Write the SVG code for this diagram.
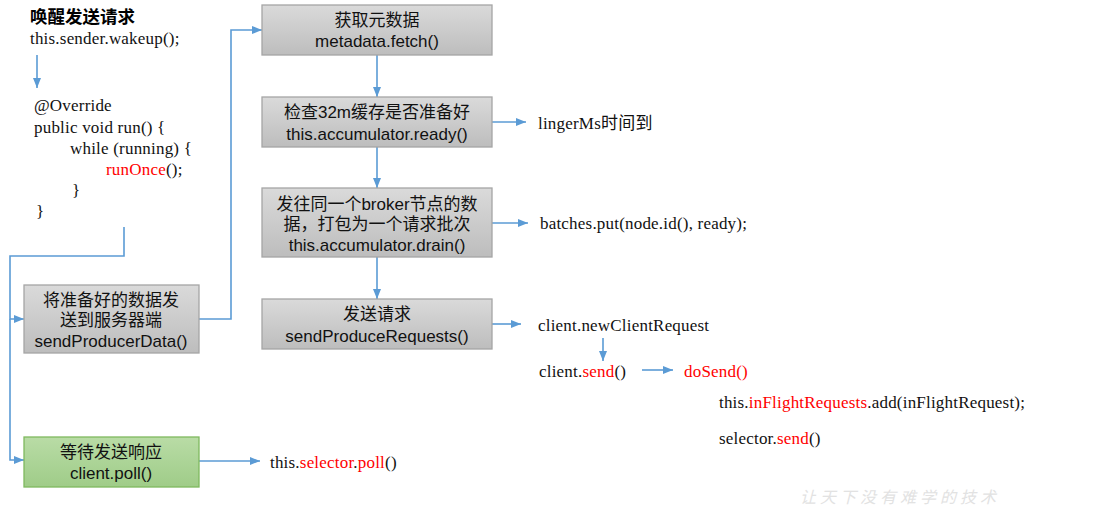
<svg xmlns="http://www.w3.org/2000/svg" width="1093" height="508" viewBox="0 0 1093 508">
<defs>
<linearGradient id="gray" x1="0" y1="0" x2="0" y2="1"><stop offset="0" stop-color="#dadada"/><stop offset="1" stop-color="#bdbdbd"/></linearGradient>
<linearGradient id="green" x1="0" y1="0" x2="0" y2="1"><stop offset="0" stop-color="#b9dca6"/><stop offset="1" stop-color="#9fcc88"/></linearGradient>
<marker id="ah" viewBox="0 0 10 10" refX="10" refY="5" markerWidth="10" markerHeight="10" markerUnits="userSpaceOnUse" orient="auto"><path d="M0,1 L10,5 L0,9 z" fill="#5b9bd5"/></marker>
<style>
.box{fill:url(#gray);stroke:#a5a5a5;stroke-width:1.3}
.gbox{fill:url(#green);stroke:#7fb95f;stroke-width:1.3}
.bt{font-family:"Liberation Sans","Noto Sans CJK SC",sans-serif;font-size:17px;fill:#111;text-anchor:middle}
.st{font-family:"Liberation Serif","Noto Sans CJK SC",serif;font-size:17px;letter-spacing:0.2px;fill:#111}
.red{fill:#ff0000}
.c{fill:none;stroke:#5b9bd5;stroke-width:1.6}
</style>
</defs>
<rect width="1093" height="508" fill="#ffffff"/>
<g id="connectors">
<path class="c" d="M37,55 V88" marker-end="url(#ah)"/>
<path class="c" d="M124,227 V256 H10 V319 H24" marker-end="url(#ah)"/>
<path class="c" d="M10,319 V460 H24" marker-end="url(#ah)"/>
<path class="c" d="M199,319 H231 V30 H262" marker-end="url(#ah)"/>
<path class="c" d="M377,55 V97" marker-end="url(#ah)"/>
<path class="c" d="M377,147 V188" marker-end="url(#ah)"/>
<path class="c" d="M377,257 V299" marker-end="url(#ah)"/>
<path class="c" d="M492,122 H526" marker-end="url(#ah)"/>
<path class="c" d="M492,223 H528" marker-end="url(#ah)"/>
<path class="c" d="M492,324 H521" marker-end="url(#ah)"/>
<path class="c" d="M603,338 V361" marker-end="url(#ah)"/>
<path class="c" d="M642,370 H673" marker-end="url(#ah)"/>
<path class="c" d="M199,461 H260" marker-end="url(#ah)"/>
</g>
<g id="intro">
<text x="30" y="23" style="font-family:'Liberation Sans','Noto Sans CJK SC',sans-serif;font-size:17.5px;font-weight:bold" fill="#000">唤醒发送请求</text>
<text class="st" x="30" y="44">this.sender.wakeup();</text>
</g>
<g id="run-code">
<text class="st" x="34" y="111">@Override</text>
<text class="st" x="34" y="133">public void run() {</text>
<text class="st" x="70" y="154">while (running) {</text>
<text class="st" x="106" y="175"><tspan class="red">runOnce</tspan>();</text>
<text class="st" x="72" y="196">}</text>
<text class="st" x="36" y="217">}</text>
</g>
<g id="fetch">
<rect class="box" x="262" y="5" width="230" height="50"/>
<text class="bt" x="377" y="26">获取元数据</text>
<text class="bt" x="377" y="47">metadata.fetch()</text>
</g>
<g id="ready">
<rect class="box" x="262" y="97" width="230" height="50"/>
<text class="bt" x="377" y="118">检查32m缓存是否准备好</text>
<text class="bt" x="377" y="140">this.accumulator.ready()</text>
</g>
<g id="drain">
<rect class="box" x="262" y="188" width="230" height="69"/>
<text class="bt" x="377" y="210">发往同一个broker节点的数</text>
<text class="bt" x="377" y="230">据，打包为一个请求批次</text>
<text class="bt" x="377" y="251">this.accumulator.drain()</text>
</g>
<g id="sendreq">
<rect class="box" x="262" y="299" width="230" height="50"/>
<text class="bt" x="377" y="320">发送请求</text>
<text class="bt" x="377" y="342">sendProduceRequests()</text>
</g>
<g id="senddata">
<rect class="box" x="24" y="285" width="175" height="68"/>
<text class="bt" x="111" y="306">将准备好的数据发</text>
<text class="bt" x="111" y="326">送到服务器端</text>
<text class="bt" x="111" y="347">sendProducerData()</text>
</g>
<g id="poll">
<rect class="gbox" x="24" y="437" width="175" height="50"/>
<text class="bt" x="111" y="458">等待发送响应</text>
<text class="bt" x="111" y="479">client.poll()</text>
</g>
<g id="labels">
<text class="st" x="538" y="129">lingerMs时间到</text>
<text class="st" x="540" y="229">batches.put(node.id(), ready);</text>
<text class="st" x="538" y="331">client.newClientRequest</text>
<text class="st" x="539" y="377">client.<tspan class="red">send</tspan>()</text>
<text class="st red" x="684" y="377">doSend()</text>
<text class="st" x="719" y="408">this.<tspan class="red">inFlightRequests</tspan>.add(inFlightRequest);</text>
<text class="st" x="719" y="444">selector.<tspan class="red">send</tspan>()</text>
<text class="st" x="270" y="468">this.<tspan class="red">selector</tspan>.<tspan class="red">poll</tspan>()</text>
</g>
<g id="watermark">
<text x="800" y="503" style="font-family:'Noto Sans CJK SC',sans-serif;font-size:16px;letter-spacing:4px;font-style:italic" fill="#e2e2e2">让天下没有难学的技术</text>
</g>
</svg>
